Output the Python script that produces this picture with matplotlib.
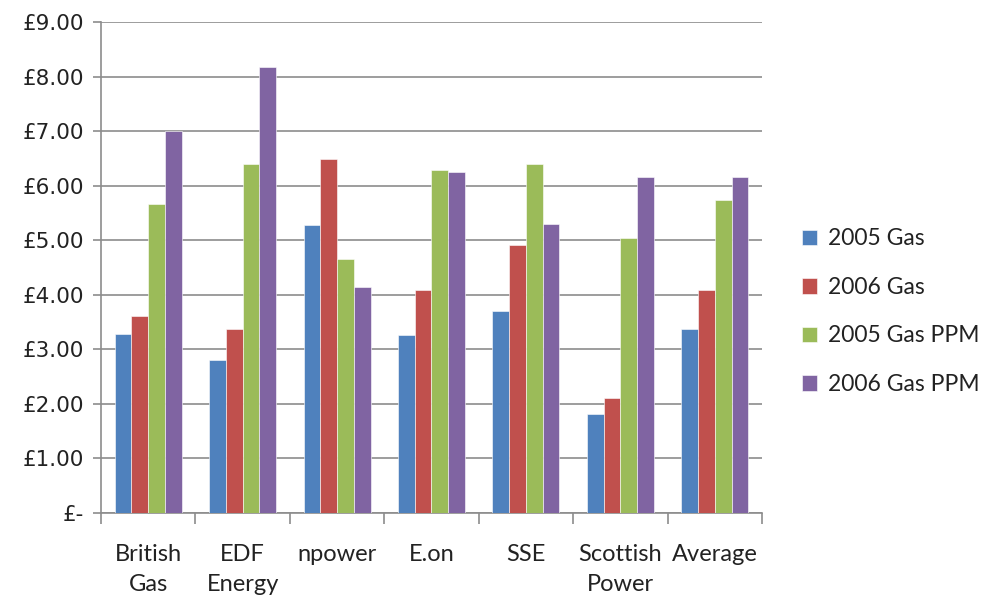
import matplotlib.pyplot as plt
import numpy as np

# Data
suppliers = ['British\nGas', 'EDF\nEnergy', 'npower', 'E.on', 'SSE', 'Scottish\nPower', 'Average']
gas_2005 = [3.29, 2.80, 5.28, 3.27, 3.71, 1.81, 3.37]
gas_2006 = [3.62, 3.37, 6.49, 4.09, 4.92, 2.11, 4.09]
gas_ppm_2005 = [5.67, 6.40, 4.66, 6.29, 6.40, 5.04, 5.74]
gas_ppm_2006 = [7.01, 8.17, 4.14, 6.25, 5.29, 6.16, 6.16]
series_names = ['2005 Gas', '2006 Gas', '2005 Gas PPM', '2006 Gas PPM']
colors = ['#4F81BD', '#C0504D', '#9BBB59', '#8064A2']

plt.rcParams['font.family'] = ['Lato', 'DejaVu Sans']

fig = plt.figure(figsize=(9.86, 6.02), dpi=100)
ax = fig.add_axes([101 / 986, 1 - 513 / 602, 661 / 986, 491 / 602])

pos = np.arange(len(suppliers))
width = 0.1775
all_series = [gas_2005, gas_2006, gas_ppm_2005, gas_ppm_2006]
for i, vals in enumerate(all_series):
    ax.bar(pos + (i - 1.5) * width, vals, width, color=colors[i],
           label=series_names[i], edgecolor='white', linewidth=0.4, zorder=3)

ax.set_xlim(-0.5, len(suppliers) - 0.5)
ax.set_ylim(0, 9)
ax.set_yticks(range(10))
ax.set_yticklabels(['£-'] + ['£%.2f' % v for v in range(1, 10)], fontsize=15.5,
                   color='#222222', family='DejaVu Sans')
ax.yaxis.grid(True, color='#8c8c8c', linewidth=1.2, zorder=0)

# category labels centred, boundary ticks on the axis
ax.set_xticks(pos)
ax.set_xticklabels(suppliers, fontsize=17, color='#222222', linespacing=1.55)
ax.tick_params(axis='x', length=0, pad=22)
ax.set_xticks(np.arange(-0.5, len(suppliers)), minor=True)
ax.tick_params(axis='x', which='minor', length=8, width=1.2, color='#8c8c8c', direction='out')
ax.tick_params(axis='y', length=6, width=1.2, color='#8c8c8c', pad=6)

for s in ['top', 'right']:
    ax.spines[s].set_visible(False)
ax.spines['left'].set_color('#8c8c8c')
ax.spines['bottom'].set_color('#8c8c8c')
ax.spines['left'].set_linewidth(1.2)
ax.spines['bottom'].set_linewidth(1.2)

ax.legend(loc='center left', bbox_to_anchor=(1.03, 0.41), frameon=False, fontsize=16.5,
          handlelength=0.65, handleheight=0.65, handletextpad=0.45, labelspacing=1.2,
          labelcolor='#222222')

fig.savefig('out.png', dpi=100)
